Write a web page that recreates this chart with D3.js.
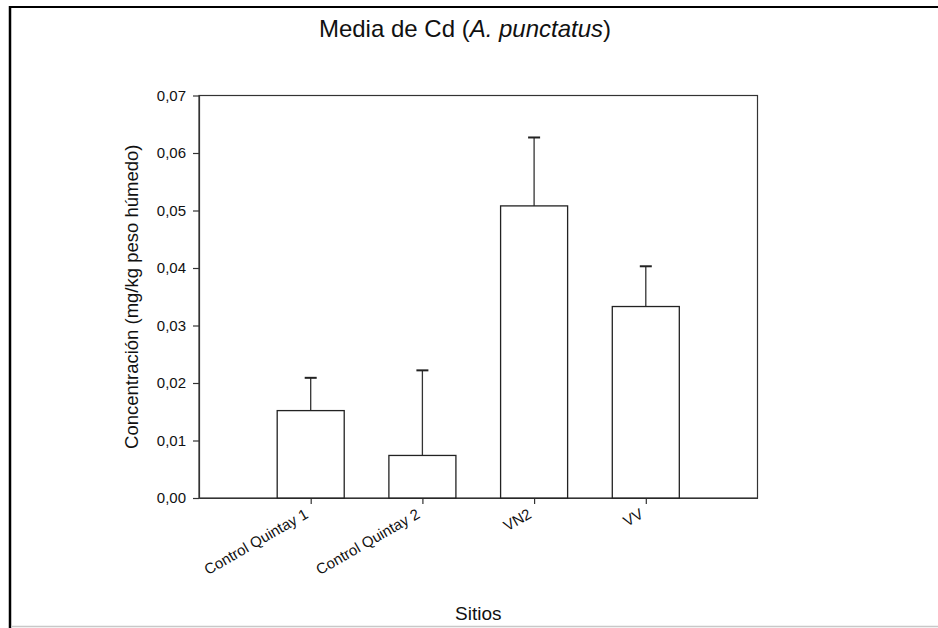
<!DOCTYPE html>
<html>
<head>
<meta charset="utf-8">
<script src="https://cdn.jsdelivr.net/npm/d3@7"></script>
<style>
  html, body { margin: 0; padding: 0; background: #fff; }
  svg { display: block; font-family: "Liberation Sans", Arial, sans-serif; }
</style>
</head>
<body>
<svg id="chart" width="938" height="628"></svg>
<script>
// Mean Cd concentration per site, with upper error bar (mean + SD)
const sites = ["Control Quintay 1", "Control Quintay 2", "VN2", "VV"];
const means = [0.0152, 0.0074, 0.0508, 0.0333];
const upperErr = [0.0209, 0.0222, 0.0627, 0.0403];
const yTicks = [0.00, 0.01, 0.02, 0.03, 0.04, 0.05, 0.06, 0.07];

const svg = d3.select("#chart");
const W = 938, H = 628;
const FONT = "Liberation Sans, Arial, sans-serif";

// outer frame
svg.append("line").attr("x1", 10).attr("x2", W).attr("y1", 7).attr("y2", 7)
  .attr("stroke", "#000").attr("stroke-width", 2);
svg.append("line").attr("x1", 10).attr("x2", 10).attr("y1", 6).attr("y2", H)
  .attr("stroke", "#000").attr("stroke-width", 2.5);
svg.append("line").attr("x1", 11).attr("x2", W).attr("y1", 626.5).attr("y2", 626.5)
  .attr("stroke", "#c8c8c8").attr("stroke-width", 1.5);

const plot = { left: 199, right: 757.5, top: 95.5, bottom: 498 };

// categories sit at positions 1..4 on a 0..5 axis
const x = d3.scaleLinear().domain([0, sites.length + 1]).range([plot.left, plot.right]);
const y = d3.scaleLinear().domain([0, 0.07]).range([plot.bottom, plot.top]);
const barW = (x(1) - x(0)) * 0.6;

const fmt = v => d3.format(".2f")(v).replace(".", ",");

// plot box
svg.append("rect")
  .attr("x", plot.left).attr("y", plot.top)
  .attr("width", plot.right - plot.left).attr("height", plot.bottom - plot.top)
  .attr("fill", "none").attr("stroke", "#333").attr("stroke-width", 1.2);

// y axis
const yAxis = d3.axisLeft(y).tickValues(yTicks).tickFormat(fmt).tickSizeOuter(0).tickSizeInner(6).tickPadding(7);
const gy = svg.append("g").attr("transform", `translate(${plot.left},0)`).call(yAxis)
  .attr("font-size", 15).attr("font-family", FONT);
gy.select(".domain").attr("stroke", "#333").attr("stroke-width", 1.2);
gy.selectAll(".tick line").attr("stroke", "#333").attr("stroke-width", 1.2);
gy.selectAll(".tick text").attr("fill", "#111");

// x axis
const xAxis = d3.axisBottom(x).tickValues(d3.range(1, sites.length + 1))
  .tickFormat(d => sites[d - 1]).tickSizeOuter(0).tickSizeInner(6);
const gx = svg.append("g").attr("transform", `translate(0,${plot.bottom})`).call(xAxis)
  .attr("font-size", 15).attr("font-family", FONT);
gx.select(".domain").attr("stroke", "#333").attr("stroke-width", 1.2);
gx.selectAll(".tick line").attr("stroke", "#333").attr("stroke-width", 1.2);
gx.selectAll(".tick text")
  .attr("fill", "#111")
  .attr("text-anchor", "end")
  .attr("y", 0).attr("dy", 0)
  .attr("transform", "translate(-2,19) rotate(-30)");

// error bars (upper only)
const eb = svg.append("g");
sites.forEach((s, i) => {
  const cx = x(i + 1);
  eb.append("line").attr("x1", cx).attr("x2", cx)
    .attr("y1", y(means[i])).attr("y2", y(upperErr[i]))
    .attr("stroke", "#333").attr("stroke-width", 1.3);
  eb.append("line").attr("x1", cx - 6).attr("x2", cx + 6)
    .attr("y1", y(upperErr[i])).attr("y2", y(upperErr[i]))
    .attr("stroke", "#222").attr("stroke-width", 2);
});

// bars
svg.append("g").selectAll("rect").data(means).join("rect")
  .attr("x", (d, i) => x(i + 1) - barW / 2)
  .attr("y", d => y(d))
  .attr("width", barW)
  .attr("height", d => plot.bottom - y(d))
  .attr("fill", "#fff")
  .attr("stroke", "#222").attr("stroke-width", 1.3);

// title
const title = svg.append("text").attr("x", 465).attr("y", 37)
  .attr("text-anchor", "middle").attr("font-size", 24).attr("fill", "#111");
title.append("tspan").text("Media de Cd (");
title.append("tspan").attr("font-style", "italic").text("A. punctatus");
title.append("tspan").text(")");

// axis titles
svg.append("text")
  .attr("transform", `translate(138,${(plot.top + plot.bottom) / 2}) rotate(-90)`)
  .attr("text-anchor", "middle").attr("font-size", 18.5).attr("fill", "#111")
  .text("Concentración (mg/kg peso húmedo)");

svg.append("text").attr("x", (plot.left + plot.right) / 2).attr("y", 620)
  .attr("text-anchor", "middle").attr("font-size", 19).attr("fill", "#111")
  .text("Sitios");
</script>
</body>
</html>
